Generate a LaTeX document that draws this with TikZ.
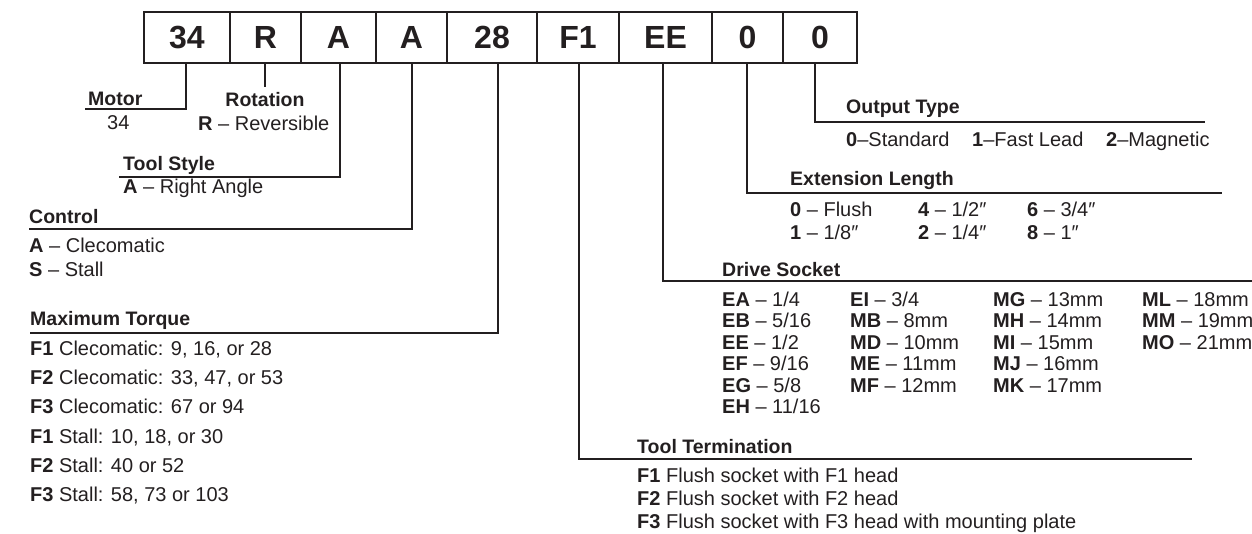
\documentclass[tikz,border=0pt]{standalone}
\usepackage{fontspec}
\setmainfont{Liberation Sans}
\definecolor{ink}{HTML}{231F20}
\tikzset{
  cell/.style={draw=ink, line width=2pt, minimum height=51pt, inner sep=0pt,
    font=\fontsize{32}{36}\selectfont\bfseries, text=ink},
  conn/.style={draw=ink, line width=2pt},
  head/.style={anchor=base west, inner sep=0pt, font=\fontsize{19.5}{22}\selectfont\bfseries, text=ink},
  item/.style={anchor=base west, inner sep=0pt, font=\fontsize{20}{22}\selectfont, text=ink},
}
\begin{document}
\begin{tikzpicture}[x=1pt, y=-1pt]
\useasboundingbox (0,0) rectangle (1252,533);
% code cells
\node[cell, minimum width=86pt] (c1) at (187,37.5) {34};
\node[cell, minimum width=71pt] (c2) at (265.5,37.5) {R};
\node[cell, minimum width=75pt] (c3) at (338.5,37.5) {A};
\node[cell, minimum width=71pt] (c4) at (411.5,37.5) {A};
\node[cell, minimum width=90pt] (c5) at (492,37.5) {28};
\node[cell, minimum width=82pt] (c6) at (578,37.5) {F1};
\node[cell, minimum width=93pt] (c7) at (665.5,37.5) {EE};
\node[cell, minimum width=71pt] (c8) at (747.5,37.5) {0};
\node[cell, minimum width=74pt] (c9) at (820,37.5) {0};
% line ends
\coordinate (motorEnd) at (85,109);
\coordinate (rotEnd) at (265,87);
\coordinate (toolEnd) at (119,177);
\coordinate (ctrlEnd) at (29,229);
\coordinate (tqEnd) at (30,333);
\coordinate (termEnd) at (1192,459);
\coordinate (drvEnd) at (1254,281);
\coordinate (extEnd) at (1222,193);
\coordinate (outEnd) at (1205,122);
% connectors
\draw[conn] ([xshift=-1pt]c1.south) |- (motorEnd);
\draw[conn] ([xshift=-0.5pt]c2.south) -- ([xshift=-0.5pt]c2.south |- rotEnd);
\draw[conn] ([xshift=1.5pt]c3.south) |- (toolEnd);
\draw[conn] ([xshift=0.5pt]c4.south) |- (ctrlEnd);
\draw[conn] ([xshift=6pt]c5.south) |- (tqEnd);
\draw[conn] ([xshift=1pt]c6.south) |- (termEnd);
\draw[conn] ([xshift=-2.5pt]c7.south) |- (drvEnd);
\draw[conn] ([xshift=-0.5pt]c8.south) |- (extEnd);
\draw[conn] ([xshift=-5pt]c9.south) |- (outEnd);
% Motor
\node[head] (hMotor) at (88,105) {Motor};
\node[item] (iMotor) at (107,129) {34};
% Rotation
\node[head, anchor=base] (hRot) at (265,106) {Rotation};
\node[item] (iRot) at (198,130) {\textbf{R} – Reversible};
% Tool Style
\node[head] (hTool) at (123,170) {Tool Style};
\node[item] (iTool) at (123,193) {\textbf{A} – Right Angle};
% Control
\node[head] (hCtrl) at (29,223) {Control};
\node[item] (iCtrlA) at (29,252) {\textbf{A} – Clecomatic};
\node[item] (iCtrlS) at (29,276) {\textbf{S} – Stall};
% Maximum Torque
\node[head] (hTq) at (30,325) {Maximum Torque};
\node[item] (tq1) at (30,355) {\textbf{F1} Clecomatic: 9, 16, or 28};
\node[item] (tq2) at (30,384) {\textbf{F2} Clecomatic: 33, 47, or 53};
\node[item] (tq3) at (30,413) {\textbf{F3} Clecomatic: 67 or 94};
\node[item] (tq4) at (30,443) {\textbf{F1} Stall: 10, 18, or 30};
\node[item] (tq5) at (30,472) {\textbf{F2} Stall: 40 or 52};
\node[item] (tq6) at (30,501) {\textbf{F3} Stall: 58, 73 or 103};
% Output Type
\node[head] (hOut) at (846,113) {Output Type};
\node[item] (o0) at (846,146) {\textbf{0}–Standard};
\node[item] (o1) at (972,146) {\textbf{1}–Fast Lead};
\node[item] (o2) at (1106,146) {\textbf{2}–Magnetic};
% Extension Length
\node[head] (hExt) at (790,185) {Extension Length};
\node[item] (e0) at (790,216) {\textbf{0} – Flush};
\node[item] (e4) at (918,216) {\textbf{4} – 1/2″};
\node[item] (e6) at (1027,216) {\textbf{6} – 3/4″};
\node[item] (e1) at (790,239) {\textbf{1} – 1/8″};
\node[item] (e2) at (918,239) {\textbf{2} – 1/4″};
\node[item] (e8) at (1027,239) {\textbf{8} – 1″};
% Drive Socket
\node[head] (hDrv) at (722,276) {Drive Socket};
\foreach \t/\v [count=\i] in {EA/1\slash 4, EB/5\slash 16, EE/1\slash 2, EF/9\slash 16, EG/5\slash 8, EH/11\slash 16}
  \node[item] (da\i) at (722,284.5+21.5*\i) {\textbf{\t} – \v};
\foreach \t/\v [count=\i] in {EI/3\slash 4, MB/8mm, MD/10mm, ME/11mm, MF/12mm}
  \node[item] (db\i) at (850,284.5+21.5*\i) {\textbf{\t} – \v};
\foreach \t/\v [count=\i] in {MG/13mm, MH/14mm, MI/15mm, MJ/16mm, MK/17mm}
  \node[item] (dc\i) at (993,284.5+21.5*\i) {\textbf{\t} – \v};
\foreach \t/\v [count=\i] in {ML/18mm, MM/19mm, MO/21mm}
  \node[item] (dd\i) at (1142,284.5+21.5*\i) {\textbf{\t} – \v};
% Tool Termination
\node[head] (hTerm) at (637,453) {Tool Termination};
\node[item] (t1) at (637,482) {\textbf{F1} Flush socket with F1 head};
\node[item] (t2) at (637,505) {\textbf{F2} Flush socket with F2 head};
\node[item] (t3) at (637,528) {\textbf{F3} Flush socket with F3 head with mounting plate};
\end{tikzpicture}
\end{document}
